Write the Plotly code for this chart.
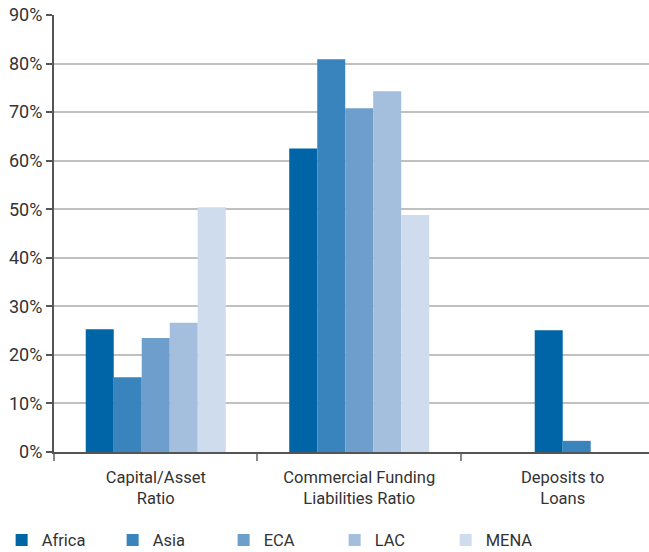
import plotly.graph_objects as go

categories = ["Capital/Asset<br>Ratio", "Commercial Funding<br>Liabilities Ratio", "Deposits to<br>Loans"]
series_names = ["Africa", "Asia", "ECA", "LAC", "MENA"]
africa = [25.3, 62.5, 25.1]
asia = [15.4, 80.9, 2.3]
eca = [23.5, 70.8, None]
lac = [26.6, 74.3, None]
mena = [50.4, 48.8, None]
y_ticks = list(range(0, 100, 10))
y_tick_labels = [f"{v}%" for v in y_ticks]

values = [africa, asia, eca, lac, mena]
colors = ["#0065A6", "#3A84BE", "#6E9ECB", "#A4BEDE", "#CFDCEE"]

bw = 0.1376
offsets = [
    [-2.5 * bw, -2.5 * bw, -1 * bw],
    [-1.5 * bw, -1.5 * bw, 0],
    [-0.5 * bw, -0.5 * bw, 0],
    [0.5 * bw, 0.5 * bw, 0],
    [1.5 * bw, 1.5 * bw, 0],
]

fig = go.Figure()
for name, vals, col, off in zip(series_names, values, colors, offsets):
    fig.add_trace(go.Bar(
        x=categories, y=vals, name=name,
        marker=dict(color=col, line=dict(width=0)),
        width=bw, offset=off,
    ))

font_family = "Roboto, Arial, sans-serif"
fig.update_layout(
    width=649, height=552,
    margin=dict(l=54, r=0, t=15, b=100, autoexpand=False),
    paper_bgcolor="white", plot_bgcolor="white",
    barmode="overlay",
    font=dict(family=font_family, color="#333333", size=16),
    showlegend=True,
    legend=dict(
        orientation="h", x=-0.088, xanchor="left", y=-0.162, yanchor="top",
        entrywidth=66, entrywidthmode="pixels",
        font=dict(size=16.5, color="#333333"),
        traceorder="normal",
    ),
    xaxis=dict(
        range=[-0.5, 2.424],
        showgrid=False,
        showline=True, linecolor="#555555", linewidth=2,
        ticks="outside", tickson="boundaries", ticklen=7, tickwidth=2, tickcolor="#888888",
        tickfont=dict(size=16.5, color="#333333"),
        ticklabelstandoff=9,
        fixedrange=True,
    ),
    yaxis=dict(
        range=[0, 90],
        tickvals=y_ticks,
        ticktext=y_tick_labels,
        showgrid=True, gridcolor="#c0c0c0", gridwidth=1.6,
        showline=True, linecolor="#555555", linewidth=2,
        ticks="outside", ticklen=6, tickwidth=1.5, tickcolor="#555555",
        tickfont=dict(size=18, color="#333333"),
        zeroline=False,
    ),
)

fig.write_html("out.html")
